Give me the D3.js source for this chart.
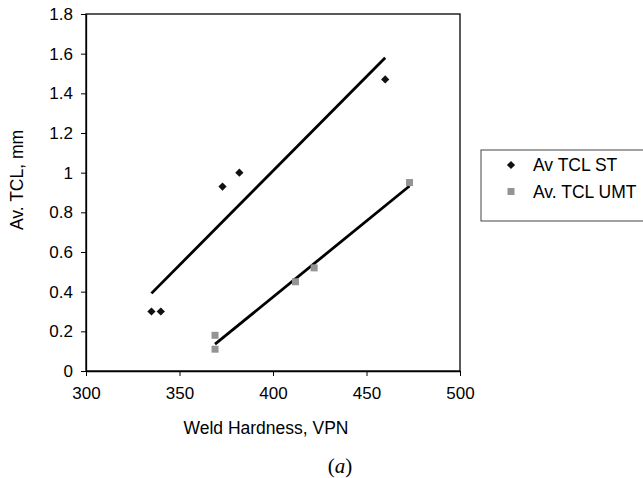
<!DOCTYPE html>
<html>
<head>
<meta charset="utf-8">
<script src="https://cdn.jsdelivr.net/npm/d3@7"></script>
<style>
  body { margin: 0; background: #fff; }
  svg { font-family: "Liberation Sans", Arial, sans-serif; }
</style>
</head>
<body>
<svg id="chart" width="643" height="478"></svg>
<script>
// values
var stHardness = [335, 340, 373, 382, 460];
var stTcl = [0.30, 0.30, 0.93, 1.00, 1.47];
var umtHardness = [369, 369, 412, 422, 473];
var umtTcl = [0.18, 0.11, 0.45, 0.52, 0.95];
var xTicks = [300, 350, 400, 450, 500];
var yTicks = [0, 0.2, 0.4, 0.6, 0.8, 1, 1.2, 1.4, 1.6, 1.8];
var seriesNames = ["Av TCL ST", "Av. TCL UMT"];

document.addEventListener('DOMContentLoaded', function() {
  drawChart();
});

// least squares fit, drawn over the x range of the data (like excel trendline)
function trend(xs, ys) {
  var mx = d3.mean(xs), my = d3.mean(ys);
  var sxy = d3.sum(xs, function(x, i) { return (x - mx) * (ys[i] - my); });
  var sxx = d3.sum(xs, function(x) { return (x - mx) * (x - mx); });
  var b = sxy / sxx, a = my - b * mx;
  var ext = d3.extent(xs);
  return ext.map(function(x) { return [x, a + b * x]; });
}

function drawChart() {
  var svg = d3.select('#chart');
  var margin = { top: 14, left: 86 },
      width = 374,
      height = 357;

  var x = d3.scaleLinear().domain([300, 500]).range([0, width]);
  var y = d3.scaleLinear().domain([0, 1.8]).range([height, 0]);

  var g = svg.append("g")
      .attr("transform", "translate(" + margin.left + "," + margin.top + ")");

  // frame
  g.append("rect")
      .attr("width", width)
      .attr("height", height)
      .attr("fill", "none")
      .attr("stroke", "#000")
      .attr("stroke-width", 1.3);

  var xAxis = g.append("g")
      .attr("transform", "translate(0," + height + ")")
      .call(d3.axisBottom(x).tickValues(xTicks).tickSize(5).tickPadding(11).tickSizeOuter(0));
  var yAxis = g.append("g")
      .call(d3.axisLeft(y).tickValues(yTicks).tickSize(5).tickPadding(8).tickSizeOuter(0)
        .tickFormat(function(d) { return d3.format("")(+d.toFixed(1)); }));

  [xAxis, yAxis].forEach(function(ax) {
    ax.select(".domain").attr("stroke", "#000").attr("stroke-width", 1.3);
    ax.selectAll(".tick line").attr("stroke", "#000");
    ax.selectAll("text")
        .attr("font-family", "Liberation Sans, Arial, sans-serif")
        .attr("font-size", 17)
        .attr("fill", "#000");
  });

  // trend lines
  var line = d3.line()
      .x(function(d) { return x(d[0]); })
      .y(function(d) { return y(d[1]); });
  g.append("path")
      .attr("d", line(trend(stHardness, stTcl)))
      .attr("stroke", "#000").attr("stroke-width", 2.8).attr("fill", "none");
  g.append("path")
      .attr("d", line(trend(umtHardness, umtTcl)))
      .attr("stroke", "#000").attr("stroke-width", 2.8).attr("fill", "none");

  var diamond = d3.symbol().type(d3.symbolSquare).size(34);
  g.selectAll(".st")
      .data(stHardness)
      .enter().append("path")
      .attr("class", "st")
      .attr("d", diamond)
      .attr("fill", "#111")
      .attr("transform", function(d, i) {
        return "translate(" + x(d) + "," + y(stTcl[i]) + ") rotate(45)";
      });

  g.selectAll(".umt")
      .data(umtHardness)
      .enter().append("rect")
      .attr("class", "umt")
      .attr("x", function(d) { return x(d) - 3.5; })
      .attr("y", function(d, i) { return y(umtTcl[i]) - 3.5; })
      .attr("width", 7).attr("height", 7)
      .attr("fill", "#949494");

  // axis titles
  svg.append("text")
      .attr("x", 266)
      .attr("y", 434)
      .attr("text-anchor", "middle")
      .attr("font-size", 17.5)
      .text("Weld Hardness, VPN");
  svg.append("text")
      .attr("transform", "translate(23,180) rotate(-90)")
      .attr("text-anchor", "middle")
      .attr("font-size", 17.5)
      .text("Av. TCL, mm");

  // legend
  var leg = svg.append("g").attr("transform", "translate(481,150)");
  leg.append("rect")
      .attr("width", 180).attr("height", 71)
      .attr("fill", "#fff").attr("stroke", "#444").attr("stroke-width", 1);
  leg.append("path")
      .attr("d", diamond)
      .attr("fill", "#111")
      .attr("transform", "translate(30,15) rotate(45)");
  leg.append("rect")
      .attr("x", 26.5).attr("y", 38).attr("width", 7).attr("height", 7)
      .attr("fill", "#949494");
  leg.selectAll(".lab")
      .data(seriesNames)
      .enter().append("text")
      .attr("class", "lab")
      .attr("x", 52)
      .attr("y", function(d, i) { return 21 + i * 27; })
      .attr("font-size", 17.5)
      .text(function(d) { return d; });

  // panel label
  var cap = svg.append("text")
      .attr("x", 340)
      .attr("y", 473)
      .attr("text-anchor", "middle")
      .attr("font-family", "Liberation Serif, Times New Roman, serif")
      .attr("font-size", 21);
  cap.append("tspan").text("(");
  cap.append("tspan").attr("font-style", "italic").text("a");
  cap.append("tspan").text(")");
}
</script>
</body>
</html>
